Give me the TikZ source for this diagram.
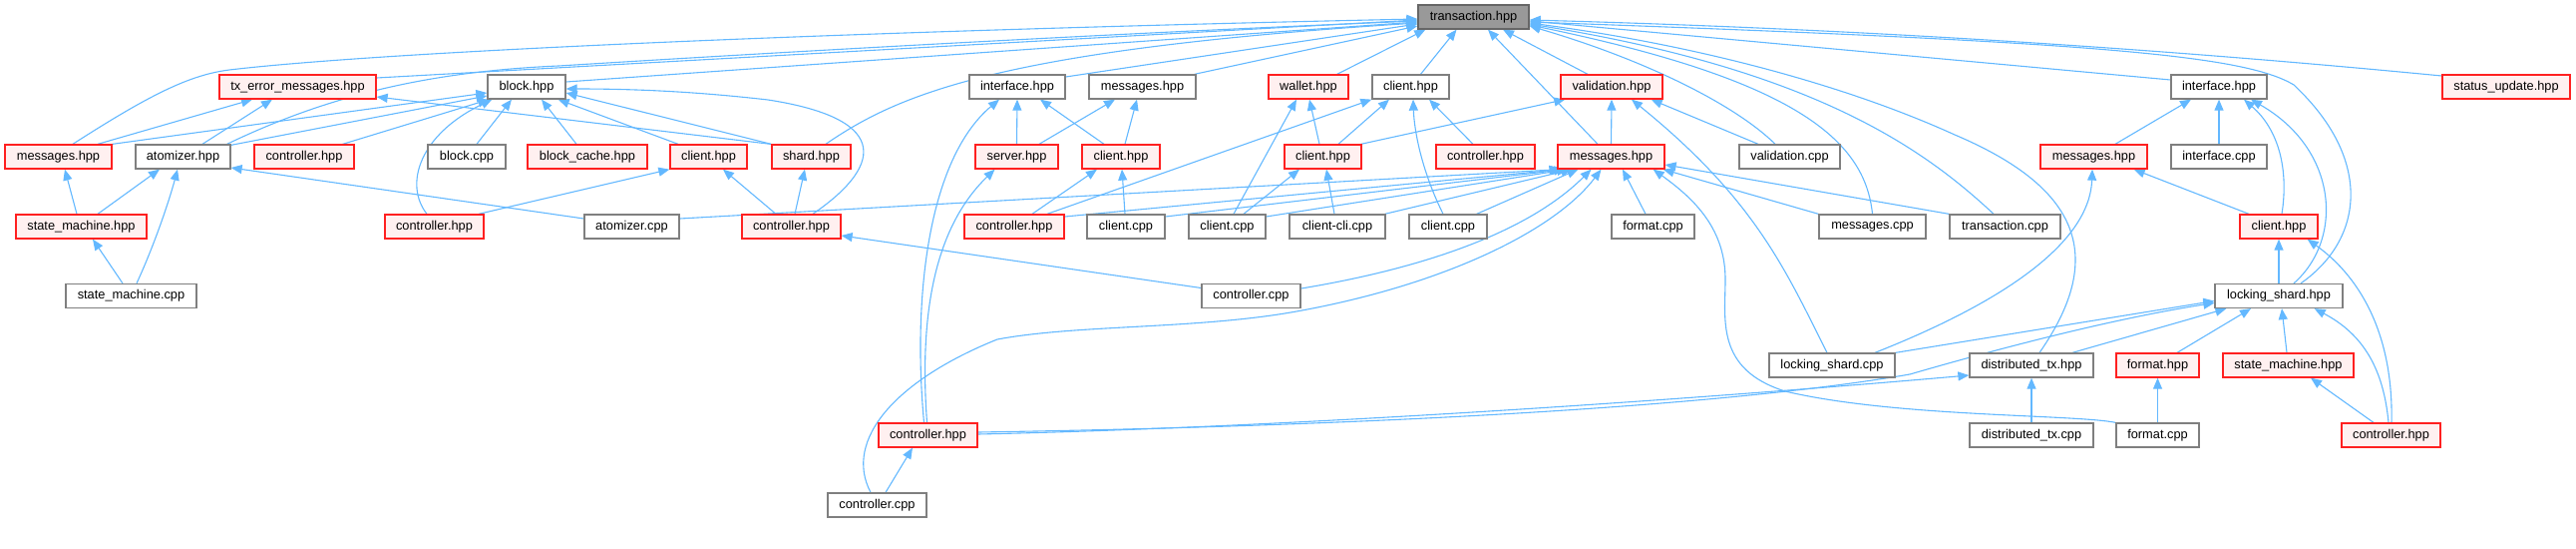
\documentclass[tikz,border=0pt]{standalone}
\usepackage{fontspec}
\setmainfont{Liberation Sans}
\usetikzlibrary{arrows.meta,backgrounds}
\definecolor{eb}{HTML}{63B8FF}
\definecolor{gb}{HTML}{7F7F7F}
\definecolor{rb}{HTML}{FF2020}
\definecolor{rf}{HTML}{FFF0F0}
\definecolor{tf}{HTML}{999999}
\definecolor{tb}{HTML}{666666}
\begin{document}
\begin{tikzpicture}[x=1pt,y=-1pt,
 box/.style={rectangle, minimum height=24, inner sep=0pt, line width=1.3pt, font=\fontsize{12.8}{15}\selectfont, text=black},
 gn/.style={box, draw=gb, fill=white},
 rn/.style={box, draw=rb, fill=rf},
 tn/.style={box, draw=tb, fill=tf},
 e/.style={draw=eb, line width=1.1pt, -{Triangle[length=11pt,width=9pt]}}]
\useasboundingbox (0,0) rectangle (2583,549);
% row 0
\node[tn, minimum width=111] (T) at (1477.5,17) {transaction.hpp};
% row 1
\node[rn, minimum width=157] (txerr) at (298.5,87) {tx\_error\_messages.hpp};
\node[gn, minimum width=78] (block) at (528,87) {block.hpp};
\node[gn, minimum width=96] (iface1) at (1020,87) {interface.hpp};
\node[gn, minimum width=107] (msg1) at (1145.5,87) {messages.hpp};
\node[rn, minimum width=80] (wallet) at (1312,87) {wallet.hpp};
\node[gn, minimum width=77] (clienth1) at (1414.5,87) {client.hpp};
\node[rn, minimum width=102] (valid) at (1616,87) {validation.hpp};
\node[gn, minimum width=96] (iface2) at (2225,87) {interface.hpp};
\node[rn, minimum width=128] (status) at (2513,87) {status\_update.hpp};
% row 2
\node[rn, minimum width=107] (msgL) at (58.5,157) {messages.hpp};
\node[gn, minimum width=95] (atom) at (183.5,157) {atomizer.hpp};
\node[rn, minimum width=100] (ctrlA) at (305,157) {controller.hpp};
\node[gn, minimum width=78] (blockcpp) at (468,157) {block.cpp};
\node[rn, minimum width=120] (bcache) at (589,157) {block\_cache.hpp};
\node[rn, minimum width=77] (clientA) at (710.5,157) {client.hpp};
\node[rn, minimum width=79] (shard) at (813.5,157) {shard.hpp};
\node[rn, minimum width=83] (server) at (1019.5,157) {server.hpp};
\node[rn, minimum width=78] (clientB) at (1124,157) {client.hpp};
\node[rn, minimum width=77] (clientC) at (1326.5,157) {client.hpp};
\node[rn, minimum width=99] (ctrlB) at (1489.5,157) {controller.hpp};
\node[rn, minimum width=107] (msgM) at (1615.5,157) {messages.hpp};
\node[gn, minimum width=101] (validcpp) at (1794.5,157) {validation.cpp};
\node[rn, minimum width=107] (msgR) at (2099.5,157) {messages.hpp};
\node[gn, minimum width=96] (ifacecpp) at (2225,157) {interface.cpp};
% row 3
\node[rn, minimum width=131] (smh) at (81.5,227) {state\_machine.hpp};
\node[rn, minimum width=99] (ctrlC) at (435.5,227) {controller.hpp};
\node[gn, minimum width=95] (atomcpp) at (633.5,227) {atomizer.cpp};
\node[rn, minimum width=99] (ctrlD) at (793.5,227) {controller.hpp};
\node[rn, minimum width=100] (ctrlE) at (1017,227) {controller.hpp};
\node[gn, minimum width=78] (clientcppa) at (1129,227) {client.cpp};
\node[gn, minimum width=77] (clientcppb) at (1230.5,227) {client.cpp};
\node[gn, minimum width=96] (clicli) at (1341,227) {client-cli.cpp};
\node[gn, minimum width=78] (clientcppc) at (1452,227) {client.cpp};
\node[gn, minimum width=83] (formatcppa) at (1657.5,227) {format.cpp};
\node[gn, minimum width=107] (msgcpp) at (1877.5,227) {messages.cpp};
\node[gn, minimum width=111] (txcpp) at (2010.5,227) {transaction.cpp};
\node[rn, minimum width=78] (clientD) at (2285,227) {client.hpp};
% row 4
\node[gn, minimum width=131] (smcpp) at (131.5,296.5) {state\_machine.cpp};
\node[gn, minimum width=99] (ctrlcppa) at (1254.5,296.5) {controller.cpp};
\node[gn, minimum width=128] (lsh) at (2285,296.5) {locking\_shard.hpp};
% row 5
\node[gn, minimum width=126] (lscpp) at (1837,366) {locking\_shard.cpp};
\node[gn, minimum width=124] (dtxh) at (2037,366) {distributed\_tx.hpp};
\node[rn, minimum width=83] (formath) at (2163.5,366) {format.hpp};
\node[rn, minimum width=131] (smh2) at (2294.5,366) {state\_machine.hpp};
% row 6
\node[rn, minimum width=99] (ctrlF) at (930.5,436) {controller.hpp};
\node[gn, minimum width=124] (dtxcpp) at (2037,436) {distributed\_tx.cpp};
\node[gn, minimum width=83] (formatcppb) at (2163.5,436) {format.cpp};
\node[rn, minimum width=99] (ctrlG) at (2397.5,436) {controller.hpp};
% row 7
\node[gn, minimum width=99] (ctrlcppb) at (879.5,506) {controller.cpp};

\begin{pgfonlayer}{background}
% to transaction.hpp
\draw[e] ([xshift=14.5]msgL.north) .. controls (150,95) and (190,75) .. (230,70) .. controls (400,50) and (900,30) .. ([yshift=-2]T.west);
\draw[e] ([yshift=9]txerr.east) -- ([yshift=-3]T.west);
\draw[e] ([xshift=-4]atom.north east) .. controls (320,100) and (420,72) .. (560,66) .. controls (900,45) and (1200,30) .. ([yshift=-4]T.west);
\draw[e] ([yshift=5]block.east) -- ([yshift=-5]T.west);
\draw[e] ([yshift=10]iface1.east) -- ([yshift=-7]T.west);
\draw[e] ([xshift=-2]msg1.north east) -- ([yshift=-9]T.west);
\draw[e] ([xshift=-12]wallet.north east) -- ([xshift=8]T.south west);
\draw[e] ([xshift=10]clienth1.north) -- ([xshift=-17]T.south);
\draw[e] ([xshift=14.5]shard.north) .. controls (900,95) and (1000,50) .. ([yshift=-6]T.west);
\draw[e] ([xshift=-13.5]msgM.north) -- ([xshift=14.5]T.south);
\draw[e] ([xshift=-24]valid.north) -- ([xshift=29.5]T.south);
\draw[e] ([xshift=-14.5]validcpp.north) .. controls (1740,105) and (1650,60) .. ([yshift=-9]T.east);
\draw[e] (msgcpp.north) .. controls (1870,140) and (1800,80) .. ([yshift=-8]T.east);
\draw[e] ([xshift=-11.5]txcpp.north) .. controls (1930,150) and (1820,70) .. ([yshift=-7]T.east);
\draw[e] ([xshift=8]dtxh.north) .. controls (2110,260) and (2090,190) .. (1960,135) .. controls (1850,85) and (1700,45) .. ([yshift=-6]T.east);
\draw[e] ([xshift=22]lsh.north) .. controls (2370,240) and (2380,160) .. (2300,85) .. controls (2250,55) and (2100,42) .. ([yshift=-5]T.east);
\draw[e] ([yshift=7]iface2.west) -- ([yshift=-4]T.east);
\draw[e] ([yshift=11]status.west) .. controls (2200,52) and (1900,30) .. ([yshift=-3]T.east);
% tx_error_messages.hpp
\draw[e] ([xshift=39.5]msgL.north) -- ([xshift=-45.5]txerr.south);
\draw[e] ([xshift=19.5]atom.north) -- ([xshift=-25.5]txerr.south);
\draw[e] ([xshift=-0.5]shard.north west) -- ([yshift=-10]txerr.east);
% block.hpp
\draw[e] (msgL.north east) -- ([yshift=-6]block.west);
\draw[e] ([yshift=-1]atom.north east) -- ([yshift=-9]block.west);
\draw[e] ([xshift=-12]ctrlA.north east) -- ([xshift=2]block.south west);
\draw[e] ([xshift=-7.5]ctrlC.north) .. controls (405,185) and (420,135) .. ([xshift=5]block.south west);
\draw[e] ([xshift=10]blockcpp.north) -- ([xshift=-15]block.south);
\draw[e] ([xshift=-11]bcache.north) -- ([xshift=15]block.south);
\draw[e] ([xshift=-30.5]clientA.north) -- ([xshift=-8]block.south east);
\draw[e] (shard.north west) -- ([yshift=-6]block.east);
\draw[e] ([xshift=21.5]ctrlD.north) .. controls (880,170) and (900,120) .. (770,100) .. controls (700,92) and (640,89) .. ([yshift=-2]block.east);
% client.hpp / shard.hpp (left)
\draw[e] ([xshift=44.5]ctrlC.north) -- (clientA.south west);
\draw[e] ([xshift=-15.5]ctrlD.north) -- ([xshift=14.5]clientA.south);
\draw[e] ([xshift=3.5]ctrlD.north) -- ([xshift=-6.5]shard.south);
\draw[e] ([yshift=8]ctrlcppa.west) -- ([yshift=-9]ctrlD.east);
% atomizer / state machine
\draw[e] ([xshift=16.5]smh.north) -- ([xshift=-23.5]atom.south);
\draw[e] ([xshift=5.5]smcpp.north) .. controls (155,245) and (170,200) .. ([xshift=-5.5]atom.south);
\draw[e] ([yshift=8]atomcpp.west) -- ([yshift=-11]atom.east);
\draw[e] ([xshift=-4.5]smh.north) -- ([xshift=6.5]msgL.south);
\draw[e] ([xshift=-8.5]smcpp.north) -- ([xshift=11.5]smh.south);
% interface.hpp / messages.hpp (middle)
\draw[e] (server.north) -- (iface1.south);
\draw[e] ([xshift=-17]clientB.north) -- ([xshift=23]iface1.south);
\draw[e] ([xshift=-4]ctrlF.north) .. controls (915,300) and (930,160) .. ([xshift=-18]iface1.south);
\draw[e] ([xshift=-1]ctrlF.north) .. controls (922,320) and (935,230) .. ([xshift=-22]server.south);
\draw[e] ([xshift=22.5]server.north) -- ([xshift=-27.5]msg1.south);
\draw[e] ([xshift=4]clientB.north) -- ([xshift=-5.5]msg1.south);
\draw[e] ([xshift=18]ctrlE.north) -- ([xshift=-24]clientB.south);
\draw[e] ([xshift=-1]clientcppa.north) -- ([xshift=1]clientB.south);
% wallet / client
\draw[e] ([xshift=6.5]clientcppb.north) -- ([xshift=-12]wallet.south);
\draw[e] ([xshift=-3.5]clientC.north) -- ([xshift=1]wallet.south);
\draw[e] ([xshift=16.5]clientcppb.north) -- ([xshift=-23.5]clientC.south);
\draw[e] ([xshift=-3]clicli.north) -- ([xshift=3.5]clientC.south);
\draw[e] ([xshift=15.5]clientC.north) -- ([xshift=-21.5]clienth1.south);
\draw[e] ([xshift=33]ctrlE.north) -- (clienth1.south west);
\draw[e] ([xshift=-5]clientcppc.north) .. controls (1425,170) and (1418,130) .. ([xshift=2.5]clienth1.south);
\draw[e] ([xshift=-12.5]ctrlB.north) -- ([xshift=18.5]clienth1.south);
% validation.hpp
\draw[e] ([xshift=-1]clientC.north east) -- ([xshift=5]valid.south west);
\draw[e] (msgM.north) -- (valid.south);
\draw[e] ([xshift=-31.5]validcpp.north) -- ([xshift=-12]valid.south east);
\draw[e] ([xshift=-5]lscpp.north) .. controls (1790,270) and (1760,200) .. ([xshift=20]valid.south);
% messages.hpp (middle, red)
\draw[e] ([yshift=8]atomcpp.east) -- ([xshift=3]msgM.south west);
\draw[e] ([yshift=10]ctrlE.east) -- ([xshift=5]msgM.south west);
\draw[e] ([yshift=10]clientcppa.east) -- ([xshift=8]msgM.south west);
\draw[e] ([yshift=10]clientcppb.east) -- ([xshift=11]msgM.south west);
\draw[e] ([xshift=-1]clicli.north east) -- ([xshift=15]msgM.south west);
\draw[e] ([xshift=-11]clientcppc.north east) -- ([xshift=21]msgM.south west);
\draw[e] ([yshift=7.5]ctrlcppa.east) .. controls (1420,270) and (1530,235) .. ([xshift=-20]msgM.south);
\draw[e] ([xshift=-6.5]ctrlcppb.north) .. controls (845,440) and (900,380) .. (1000,340) .. controls (1080,325) and (1200,330) .. (1300,312) .. controls (1450,285) and (1560,230) .. ([xshift=-10]msgM.south);
\draw[e] ([xshift=-7.5]formatcppa.north) -- ([xshift=11.5]msgM.south);
\draw[e] (msgcpp.north west) -- ([xshift=-2]msgM.south east);
\draw[e] (txcpp.north west) -- ([yshift=-8]msgM.east);
\draw[e] (formatcppb.north west) .. controls (2080,415) and (1900,418) .. (1790,392) .. controls (1720,370) and (1730,320) .. (1730,280) .. controls (1730,230) and (1700,200) .. ([xshift=-12]msgM.south east);
% messages.hpp (right)
\draw[e] ([xshift=43]lscpp.north) .. controls (1990,310) and (2095,250) .. ([xshift=-1.5]msgR.south);
\draw[e] ([xshift=-30]clientD.north) -- ([xshift=-14]msgR.south east);
% interface.hpp (right)
\draw[e] ([xshift=21.5]msgR.north) -- ([xshift=-28]iface2.south);
\draw[e] (ifacecpp.north) -- (iface2.south);
\draw[e] ([xshift=3]clientD.north) .. controls (2295,170) and (2285,130) .. ([xshift=25]iface2.south);
\draw[e] ([xshift=15]lsh.north) .. controls (2350,240) and (2345,150) .. ([xshift=32]iface2.south);
% client.hpp (right)
\draw[e] (lsh.north) -- (clientD.south);
\draw[e] ([xshift=0.5]ctrlG.north) .. controls (2400,340) and (2370,280) .. ([xshift=-11]clientD.south east);
% locking_shard.hpp
\draw[e] (lscpp.north east) -- ([yshift=-5]lsh.west);
\draw[e] ([yshift=3]ctrlF.east) .. controls (1300,428) and (1700,412) .. (1915,375) .. controls (1960,362) and (2100,322) .. ([yshift=-7]lsh.west);
\draw[e] ([yshift=1]ctrlF.east) .. controls (1300,428) and (1700,400) .. ([yshift=-10]dtxh.west);
\draw[e] ([xshift=41]dtxh.north) -- ([xshift=12]lsh.south west);
\draw[e] ([xshift=19.5]formath.north) -- ([xshift=-28]lsh.south);
\draw[e] ([xshift=-1.5]smh2.north) -- ([xshift=3]lsh.south);
\draw[e] ([xshift=-2.5]ctrlG.north) .. controls (2390,370) and (2370,335) .. ([xshift=-29]lsh.south east);
\draw[e] ([xshift=-17.5]ctrlG.north) -- ([xshift=22.5]smh2.south);
% others
\draw[e] (formatcppb.north) -- (formath.south);
\draw[e] (dtxcpp.north) -- (dtxh.south);
\draw[e] ([xshift=8.5]ctrlcppb.north) -- ([xshift=-15.5]ctrlF.south);
\end{pgfonlayer}
\end{tikzpicture}
\end{document}
